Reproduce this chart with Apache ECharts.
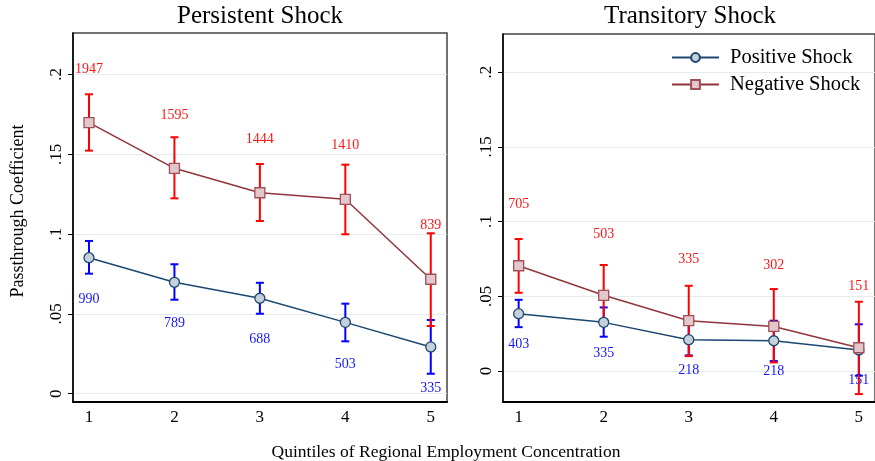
<!DOCTYPE html>
<html><head><meta charset="utf-8">
<script src="https://cdn.jsdelivr.net/npm/echarts@6/dist/echarts.min.js"></script>
<style>html,body{margin:0;padding:0;background:#fff}#c{width:875px;height:461px}</style>
</head><body><div id="c"></div>
<script>
// ---- data ----
const quintiles = [1, 2, 3, 4, 5];
const yTicks = [0, 0.05, 0.1, 0.15, 0.2];
const yTickLabels = ['0', '.05', '.1', '.15', '.2'];
const panelTitles = ['Persistent Shock', 'Transitory Shock'];
const seriesNames = ['Positive Shock', 'Negative Shock'];
const xTitle = 'Quintiles of Regional Employment Concentration';
const yTitle = 'Passthrough Coefficient';

const persPosCoef = [0.0852, 0.0698, 0.0598, 0.0447, 0.0293];
const persPosLo   = [0.0752, 0.0589, 0.0501, 0.0328, 0.0125];
const persPosHi   = [0.0957, 0.0811, 0.0695, 0.0564, 0.0462];
const persPosN    = [990, 789, 688, 503, 335];
const persNegCoef = [0.1698, 0.1412, 0.1259, 0.1218, 0.0717];
const persNegLo   = [0.1523, 0.1224, 0.1082, 0.0999, 0.0424];
const persNegHi   = [0.1876, 0.1607, 0.1439, 0.1435, 0.1005];
const persNegN    = [1947, 1595, 1444, 1410, 839];

const tranPosCoef = [0.0384, 0.0326, 0.0210, 0.0203, 0.0141];
const tranPosLo   = [0.0294, 0.0230, 0.0105, 0.0067, -0.0031];
const tranPosHi   = [0.0477, 0.0426, 0.0315, 0.0337, 0.0313];
const tranPosN    = [403, 335, 218, 218, 151];
const tranNegCoef = [0.0705, 0.0507, 0.0337, 0.0299, 0.0156];
const tranNegLo   = [0.0524, 0.0304, 0.0100, 0.0058, -0.0154];
const tranNegHi   = [0.0884, 0.0710, 0.0571, 0.0549, 0.0464];
const tranNegN    = [705, 503, 335, 302, 151];

// ---- styles ----
const FONT = 'Liberation Serif';
const NAVY = '#1a476f', MAROON = '#90353b';
const POS_FILL = '#c5d0da', NEG_FILL = '#e3c7ca', NEG_BORDER = '#a0505a';
const GRIDC = '#e3edef';

const chart = echarts.init(document.getElementById('c'));

function ciSeries(idx, lo, hi, color) {
  return {
    type: 'custom', xAxisIndex: idx, yAxisIndex: idx, z: 2, silent: true,
    data: quintiles.map((q, i) => [q, lo[i], hi[i]]),
    encode: { x: 0, y: [1, 2] },
    renderItem: (params, api) => {
      const x = api.value(0);
      const a = api.coord([x, api.value(1)]);
      const b = api.coord([x, api.value(2)]);
      const w = 4, st = { stroke: color, lineWidth: 2 };
      return { type: 'group', children: [
        { type: 'line', shape: { x1: a[0], y1: a[1], x2: b[0], y2: b[1] }, style: st },
        { type: 'line', shape: { x1: a[0] - w, y1: a[1], x2: a[0] + w, y2: a[1] }, style: st },
        { type: 'line', shape: { x1: b[0] - w, y1: b[1], x2: b[0] + w, y2: b[1] }, style: st }
      ]};
    }
  };
}

function lineSeries(idx, name, coef, counts, pos, offY) {
  const isPos = pos;
  return {
    type: 'line', name: name, xAxisIndex: idx, yAxisIndex: idx, z: 3,
    data: quintiles.map((q, i) => [q, coef[i]]),
    symbol: isPos ? 'circle' : 'rect', symbolSize: 10,
    lineStyle: { color: isPos ? NAVY : MAROON, width: 1.5 },
    itemStyle: { color: isPos ? POS_FILL : NEG_FILL, borderColor: isPos ? NAVY : NEG_BORDER, borderWidth: 1.3 },
    label: {
      show: true, position: 'inside', offset: [0, offY],
      formatter: p => String(counts[p.dataIndex]),
      color: isPos ? '#1515ff' : '#ff1515', fontFamily: FONT, fontSize: 14
    },
    emphasis: { disabled: true }, animation: false
  };
}

const grids = [
  { left: 73, top: 33, width: 374, height: 369 },
  { left: 503, top: 34, width: 374, height: 368 }
];
const yRanges = [[-0.0052, 0.226], [-0.0207, 0.2256]];
const xRanges = [[0.813, 5.19], [0.816, 5.19]];

const option = {
  backgroundColor: '#fff',
  animation: false,
  title: [
    { text: panelTitles[0], left: 260, top: 4, textAlign: 'center', padding: 0,
      textStyle: { fontFamily: FONT, fontSize: 25, fontWeight: 'normal', color: '#000' } },
    { text: panelTitles[1], left: 690, top: 4, textAlign: 'center', padding: 0,
      textStyle: { fontFamily: FONT, fontSize: 25, fontWeight: 'normal', color: '#000' } }
  ],
  legend: {
    data: seriesNames, orient: 'vertical', left: 671, top: 47, itemWidth: 47, itemHeight: 11, itemGap: 6,
    padding: 0,
    textStyle: { fontFamily: FONT, fontSize: 20.5, color: '#000', padding: [0, 0, 0, 6] }
  },
  grid: grids.map(g => Object.assign({ show: true, borderColor: '#444', borderWidth: 1.5, backgroundColor: '#fff', containLabel: false }, g)),
  xAxis: [0, 1].map(i => ({
    type: 'value', gridIndex: i, min: xRanges[i][0], max: xRanges[i][1],
    axisLine: { show: true, onZero: false, lineStyle: { color: '#000', width: 2 } },
    axisTick: { show: false, customValues: quintiles },
    axisLabel: { customValues: quintiles, fontFamily: FONT, fontSize: 17, color: '#000', margin: 7,
      formatter: v => String(Math.round(v)) },
    splitLine: { show: false }
  })),
  yAxis: [0, 1].map(i => ({
    type: 'value', gridIndex: i, min: yRanges[i][0], max: yRanges[i][1],
    axisLine: { show: true, onZero: false, lineStyle: { color: '#000', width: 1.5 } },
    axisTick: { show: true, customValues: yTicks, length: 5, lineStyle: { color: '#000', width: 1 } },
    axisLabel: { customValues: yTicks, rotate: 90, fontFamily: FONT, fontSize: 17, color: '#000', margin: 8,
      formatter: v => { const k = yTicks.findIndex(t => Math.abs(t - v) < 1e-9); return k >= 0 ? yTickLabels[k] : ''; } },
    splitLine: { show: true, lineStyle: { color: GRIDC, width: 1 } }
  })),
  graphic: [
    { type: 'text', x: 18, y: 211, rotation: Math.PI / 2,
      style: { text: yTitle, fontFamily: FONT, fontSize: 18, fill: '#000', textAlign: 'center', textVerticalAlign: 'middle' } },
    { type: 'text', x: 446, y: 452,
      style: { text: xTitle, fontFamily: FONT, fontSize: 17.5, fill: '#000', textAlign: 'center', textVerticalAlign: 'middle' } }
  ],
  series: [
    ciSeries(0, persPosLo, persPosHi, '#0000ff'),
    ciSeries(0, persNegLo, persNegHi, '#ff0000'),
    lineSeries(0, seriesNames[0], persPosCoef, persPosN, true, 41.5),
    lineSeries(0, seriesNames[1], persNegCoef, persNegN, false, -53.5),
    ciSeries(1, tranPosLo, tranPosHi, '#0000ff'),
    ciSeries(1, tranNegLo, tranNegHi, '#ff0000'),
    lineSeries(1, seriesNames[0], tranPosCoef, tranPosN, true, 30.8),
    lineSeries(1, seriesNames[1], tranNegCoef, tranNegN, false, -61)
  ]
};
chart.setOption(option);
</script>
</body></html>
